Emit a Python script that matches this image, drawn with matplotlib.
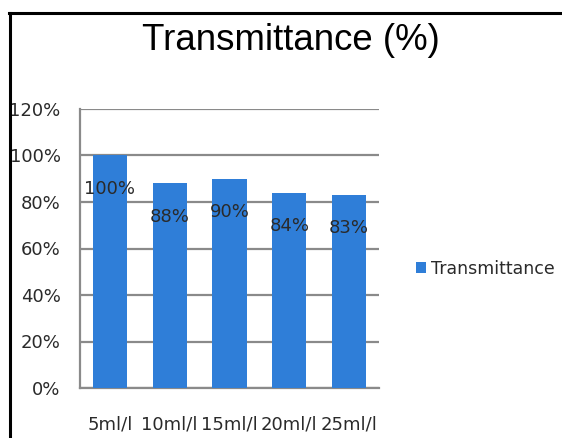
import matplotlib
matplotlib.use("Agg")
import matplotlib.pyplot as plt
from matplotlib.lines import Line2D
from matplotlib.ticker import FuncFormatter

categories = ["5ml/l", "10ml/l", "15ml/l", "20ml/l", "25ml/l"]
transmittance = [100, 88, 90, 84, 83]
y_ticks = [0, 20, 40, 60, 80, 100, 120]
series_name = "Transmittance"
title = "Transmittance (%)"

bar_color = "#2f7ed8"
grid_color = "#8a8a8a"
text_color = "#2a2a2a"

plt.rcParams["font.family"] = ["DejaVu Sans"]

W, H = 562, 438
fig = plt.figure(figsize=(W / 100, H / 100), dpi=100)
fig.patch.set_facecolor("white")

ax = fig.add_axes([80 / W, 1 - 388 / H, (379 - 80) / W, (388 - 109) / H])
x = range(len(categories))
bars = ax.bar(x, transmittance, width=0.57, color=bar_color, zorder=3,
              label=series_name)

ax.set_xlim(-0.5, len(categories) - 0.5)
ax.set_ylim(0, 120)
ax.set_yticks(y_ticks)
ax.yaxis.set_major_formatter(FuncFormatter(lambda v, _: f"{v:.0f}%"))
ax.set_xticks(list(x))
ax.set_xticklabels(categories)
ax.tick_params(axis="y", length=0, pad=14, labelsize=13, labelcolor=text_color)
ax.tick_params(axis="x", length=0, pad=20, labelsize=13, labelcolor=text_color)

ax.grid(axis="y", color=grid_color, linewidth=1.6, zorder=1)
for side in ("top", "right"):
    ax.spines[side].set_visible(False)
for side in ("left", "bottom"):
    ax.spines[side].set_color(grid_color)
    ax.spines[side].set_linewidth(1.6)

for rect, val in zip(bars, transmittance):
    ax.annotate(f"{val}%", (rect.get_x() + rect.get_width() / 2, val),
                xytext=(0, -24), textcoords="offset points",
                ha="center", va="center", fontsize=13, color=text_color,
                zorder=4)

fig.text(291 / W, 1 - 40 / H, title, ha="center", va="center",
         fontsize=26.4, color="black", family=["Liberation Sans", "DejaVu Sans"])

fig.legend(handles=[bars], labels=[series_name], loc="center left",
           bbox_to_anchor=(416 / W, 1 - 269 / H), frameon=False,
           handlelength=0.55, handleheight=0.6, handletextpad=0.3,
           borderpad=0, borderaxespad=0, fontsize=12.5, labelcolor=text_color)

# outer frame on the left and top edges
fig.add_artist(Line2D([10 / W, 10 / W], [0, 1 - 13 / H], color="black",
                      linewidth=2.2, transform=fig.transFigure))
fig.add_artist(Line2D([9 / W, 1], [1 - 13 / H, 1 - 13 / H], color="black",
                      linewidth=2.2, transform=fig.transFigure))

fig.savefig("out.png", dpi=100)
